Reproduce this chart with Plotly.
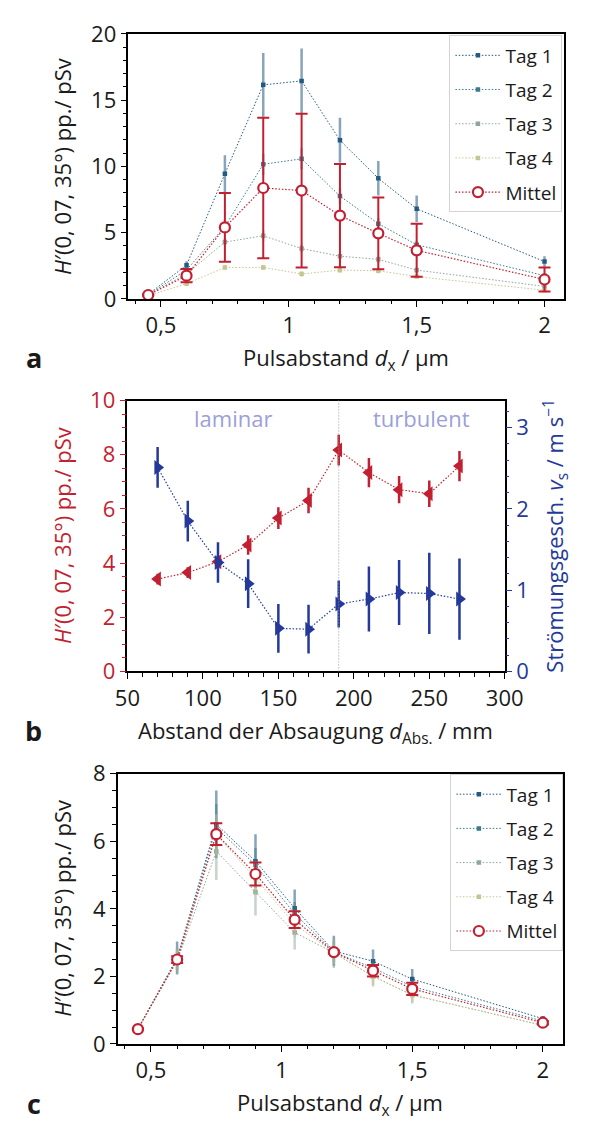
import plotly.graph_objects as go

# ---------------- data ----------------
# Panel a
dx_a = [0.45, 0.6, 0.75, 0.9, 1.05, 1.2, 1.35, 1.5, 2.0]
tag1_a = [0.35, 2.55, 9.45, 16.15, 16.45, 11.97, 9.1, 6.8, 2.82]
tag1_a_err = [0.1, 0.3, 1.4, 2.4, 2.45, 1.7, 1.3, 1.0, 0.4]
tag2_a = [0.3, 2.2, 5.45, 10.16, 10.57, 7.76, 5.68, 4.09, 1.76]
tag2_a_err = [0.05, 0.2, 0.5, 0.8, 0.8, 0.6, 0.4, 0.3, 0.12]
tag3_a = [0.3, 1.9, 4.29, 4.77, 3.8, 3.23, 2.99, 2.18, 0.95]
tag3_a_err = [0.05, 0.15, 0.3, 0.4, 0.3, 0.25, 0.25, 0.2, 0.1]
tag4_a = [0.25, 1.15, 2.38, 2.38, 1.89, 2.18, 2.13, 1.69, 0.66]
tag4_a_err = [0.03, 0.1, 0.2, 0.2, 0.2, 0.2, 0.2, 0.15, 0.05]
mittel_a = [0.3, 1.76, 5.4, 8.37, 8.18, 6.29, 4.95, 3.67, 1.47]
mittel_a_err = [0.05, 0.5, 2.6, 5.3, 5.8, 3.9, 2.7, 2.0, 0.9]

# Panel b
d_abs = [70, 90, 110, 130, 150, 170, 190, 210, 230, 250, 270]
h_b = [3.41, 3.65, 4.05, 4.67, 5.66, 6.31, 8.17, 7.34, 6.71, 6.56, 7.58]
h_b_err = [0.2, 0.2, 0.25, 0.36, 0.4, 0.47, 0.57, 0.54, 0.5, 0.49, 0.56]
v_b = [2.51, 1.85, 1.34, 1.08, 0.53, 0.52, 0.83, 0.89, 0.97, 0.96, 0.89]
v_b_err = [0.25, 0.25, 0.25, 0.3, 0.3, 0.3, 0.29, 0.4, 0.4, 0.5, 0.5]
d_transition = 190

# Panel c
dx_c = [0.45, 0.6, 0.75, 0.9, 1.05, 1.2, 1.35, 1.5, 2.0]
tag1_c = [0.45, 2.55, 6.5, 5.41, 4.02, 2.75, 2.45, 1.92, 0.75]
tag1_c_err = [0.03, 0.48, 1.0, 0.8, 0.55, 0.45, 0.35, 0.3, 0.08]
tag2_c = [0.45, 2.5, 6.4, 5.3, 3.85, 2.72, 2.25, 1.7, 0.68]
tag2_c_err = [0.03, 0.3, 0.7, 0.5, 0.35, 0.3, 0.25, 0.2, 0.06]
tag3_c = [0.45, 2.45, 5.7, 4.5, 3.3, 2.7, 2.0, 1.45, 0.55]
tag3_c_err = [0.03, 0.4, 0.85, 0.7, 0.5, 0.45, 0.3, 0.25, 0.06]
tag4_c = [0.45, 2.5, 6.2, 4.9, 3.55, 2.7, 2.0, 1.45, 0.55]
tag4_c_err = [0.03, 0.3, 0.6, 0.5, 0.4, 0.3, 0.25, 0.2, 0.05]
mittel_c = [0.44, 2.5, 6.21, 5.03, 3.68, 2.72, 2.17, 1.63, 0.63]
mittel_c_err = [0.02, 0.1, 0.32, 0.34, 0.25, 0.05, 0.17, 0.18, 0.05]

series_names = ["Tag 1", "Tag 2", "Tag 3", "Tag 4", "Mittel"]

# ---------------- styling ----------------
W, H = 589, 1131
FONT = "Open Sans"
FS = 22          # ticks / axis titles
LFS = 19         # legend
RED = "#c21f30"
BLUE = "#24399a"
TXT = "#1a1a1a"
DOT = "1.5px,1.8px"
tag_colors = ["#225a82", "#3a7a8c", "#8da898", "#c5c592"]
tag_err_colors = ["rgba(34,90,130,0.55)", "rgba(58,122,140,0.5)",
                  "rgba(141,168,152,0.5)", "rgba(197,197,146,0.5)"]


def px_x(p):
    return p / W


def px_y(p):
    return 1 - p / H


fig = go.Figure()


def add_day_panel(xv, tags, errs, mean, mean_err, xa, ya, legend, tag):
    for i, (vals, e) in enumerate(zip(tags, errs)):
        fig.add_trace(go.Scatter(
            x=xv, y=vals, name=series_names[i], xaxis=xa, yaxis=ya, legend=legend,
            legendgroup=f"{tag}{i}",
            mode="lines+markers",
            line=dict(color=tag_colors[i], width=1, dash=DOT),
            marker=dict(color=tag_colors[i], size=4.5, symbol="square"),
            error_y=dict(type="data", array=e, color=tag_err_colors[i],
                         thickness=2.5, width=0),
        ))
    fig.add_trace(go.Scatter(
        x=xv, y=mean, name=series_names[4], xaxis=xa, yaxis=ya, legend=legend,
        legendgroup=f"{tag}m",
        mode="lines+markers",
        line=dict(color=RED, width=1.2, dash=DOT),
        marker=dict(color="white", size=10, symbol="circle",
                    line=dict(color=RED, width=2.2)),
        error_y=dict(type="data", array=mean_err, color=RED,
                     thickness=2, width=6),
    ))


add_day_panel(dx_a, [tag1_a, tag2_a, tag3_a, tag4_a],
              [tag1_a_err, tag2_a_err, tag3_a_err, tag4_a_err],
              mittel_a, mittel_a_err, "x", "y", "legend", "a")

# Panel b
fig.add_trace(go.Scatter(
    x=d_abs, y=h_b, xaxis="x2", yaxis="y2", showlegend=False,
    mode="lines+markers",
    line=dict(color=RED, width=1.2, dash=DOT),
    marker=dict(color=RED, size=13, symbol="triangle-left"),
    error_y=dict(type="data", array=h_b_err, color=RED, thickness=2.5, width=0),
))
fig.add_trace(go.Scatter(
    x=d_abs, y=v_b, xaxis="x2", yaxis="y4", showlegend=False,
    mode="lines+markers",
    line=dict(color=BLUE, width=1.2, dash=DOT),
    marker=dict(color=BLUE, size=13, symbol="triangle-right"),
    error_y=dict(type="data", array=v_b_err, color=BLUE, thickness=2.5, width=0),
))

add_day_panel(dx_c, [tag1_c, tag2_c, tag3_c, tag4_c],
              [tag1_c_err, tag2_c_err, tag3_c_err, tag4_c_err],
              mittel_c, mittel_c_err, "x3", "y3", "legend2", "c")

tickfont = dict(family=FONT, size=FS, color=TXT)


def xax(domain, rng, dtick, minor, anchor, tick0=0):
    return dict(domain=domain, range=rng, anchor=anchor, dtick=dtick, tick0=tick0,
                showgrid=False, zeroline=False, showline=True, mirror=True,
                linecolor="black", linewidth=1.5, ticks="outside", ticklen=6,
                tickwidth=1.3, tickcolor="black", tickfont=tickfont,
                minor=dict(ticks="outside", ticklen=3.5, tickwidth=1, dtick=minor,
                           tickcolor="black", showgrid=False))


def yax(domain, rng, dtick, minor, anchor, color="black", fcolor=TXT):
    return dict(domain=domain, range=rng, anchor=anchor, dtick=dtick, tick0=0,
                showgrid=False, zeroline=False, showline=True, mirror=True,
                linecolor="black", linewidth=1.5, ticks="outside", ticklen=6,
                tickwidth=1.3, tickcolor=color,
                tickfont=dict(family=FONT, size=FS, color=fcolor),
                minor=dict(ticks="outside", ticklen=3.5, tickwidth=1, dtick=minor,
                           tickcolor=color, showgrid=False))


legend_style = dict(xanchor="right", yanchor="top",
                    bgcolor="rgba(255,255,255,0.85)", bordercolor="#d4d4d4",
                    borderwidth=1, font=dict(family=FONT, size=LFS, color=TXT),
                    tracegroupgap=6.5, itemwidth=45)

xr = [0.3725, 2.0775]
layout = dict(
    width=W, height=H, margin=dict(l=0, r=0, t=0, b=0),
    paper_bgcolor="white", plot_bgcolor="white",
    separators=",.",
    font=dict(family=FONT, size=FS, color=TXT),
    xaxis=xax([px_x(122), px_x(583)], xr, 0.5, 0.1, "y", tick0=0.5),
    yaxis=yax([px_y(290.7), px_y(18.3)], [0, 20], 5, 1, "x"),
    xaxis2=xax([px_x(121), px_x(520)], [50, 300], 50, 10, "y2"),
    yaxis2=yax([px_y(673.3), px_y(395)], [0, 10], 2, 0.5, "x2", RED, RED),
    yaxis4=dict(overlaying="y2", side="right", anchor="x2", range=[0, 10 / 3],
                dtick=1, tick0=0, showgrid=False, zeroline=False, showline=False,
                ticks="outside", ticklen=6, tickwidth=1.3, tickcolor=BLUE,
                tickfont=dict(family=FONT, size=FS, color=BLUE),
                minor=dict(ticks="outside", ticklen=3.5, tickwidth=1, dtick=0.2,
                           tickcolor=BLUE, showgrid=False)),
    xaxis3=xax([px_x(110.7), px_x(581.7)], xr, 0.5, 0.1, "y3", tick0=0.5),
    yaxis3=yax([px_y(1056), px_y(778.3)], [0, 8], 2, 0.5, "x3"),
    legend=dict(x=px_x(581), y=px_y(20), **legend_style),
    legend2=dict(x=px_x(582), y=px_y(779), **legend_style),
)
fig.update_layout(**layout)

# vertical transition line
fig.add_shape(type="line", xref="x2", yref="y2 domain", x0=d_transition, x1=d_transition,
              y0=0, y1=1, line=dict(color="#999999", width=1, dash="1px,2px"))

HTITLE = "<i>H</i>′(0, 07, 35°) pp./ pSv"
ann = []


def add_text(text, x, y, size=FS, color=TXT, angle=0, bold=False):
    if bold:
        text = "<b>" + text + "</b>"
    ann.append(dict(text=text, x=px_x(x), y=px_y(y), xref="paper", yref="paper",
                    showarrow=False, textangle=angle, xanchor="center", yanchor="middle",
                    font=dict(family=FONT, size=size, color=color)))


# Panel a
add_text(HTITLE, 52, 155, angle=-90)
add_text("Pulsabstand <i>d</i><sub>x</sub> / µm", 352, 352)
add_text("a", 22, 351, size=27, bold=True)
# Panel b
add_text(HTITLE, 52, 534, color=RED, angle=-90)
add_text("Strömungsgesch. <i>v</i><sub>s</sub> / m s<sup>−1</sup>", 574, 534, color=BLUE, angle=-90)
add_text("Abstand der Absaugung <i>d</i><sub>Abs.</sub> / mm", 320, 735)
add_text("b", 22, 734, size=27, bold=True)
add_text("laminar", 233, 413, color="#9c9fd9")
add_text("turbulent", 432, 413, color="#9c9fd9")
# Panel c
add_text(HTITLE, 52, 917, angle=-90)
add_text("Pulsabstand <i>d</i><sub>x</sub> / µm", 346, 1118)
add_text("c", 22, 1117, size=27, bold=True)

fig.update_layout(annotations=ann)

fig.write_html(
    "out.html",
    config={"displayModeBar": False},
    post_script="document.body.style.margin='0';document.body.style.overflow='hidden';",
)
